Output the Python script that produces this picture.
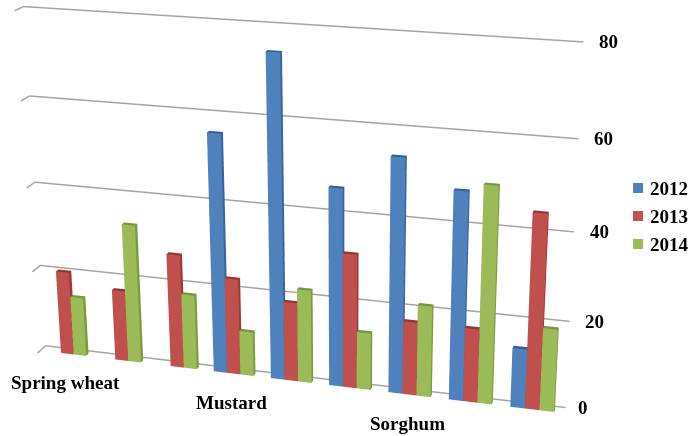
import numpy as np, plotly.graph_objects as go

categories = ["Spring wheat", "", "", "Mustard", "", "", "Sorghum", "", ""]
series_names = ["2012", "2013", "2014"]
values_2012 = [None, None, None, 55.8, 74.4, 45.9, 53.9, 47.7, 13.7]
values_2013 = [20.1, 17.0, 27.0, 22.7, 18.6, 31.3, 17.1, 17.1, 44.4]
values_2014 = [14.2, 33.0, 17.8, 10.5, 21.9, 13.4, 21.2, 49.5, 19.0]
z_ticks = [0, 20, 40, 60, 80]

front = ["#4F81BD", "#C0504D", "#9BBB59"]
side = ["#3A659A", "#9A3B38", "#7C9A42"]
top = ["#34608F", "#963633", "#7A9640"]
grid_color = "#A4A4A4"
font = dict(family="Liberation Serif", size=19, color="#000000", weight=700)

BAR_W, D0, D1 = 0.233, 0.345, 0.655
FOCAL = 1672.8
W, H = 689, 436
LEGEND_Y = [188, 216, 244]

def bar_mesh(vals, k, name):
    X, Y, Z, I, J, K, C = [], [], [], [], [], [], []
    for g, v in enumerate(vals):
        if v is None:
            continue
        x0 = g + .5 + (k - 1.5) * BAR_W
        x1 = x0 + BAR_W
        n = len(X)
        for z in (0, v):
            for x, y in ((x0, D0), (x1, D0), (x1, D1), (x0, D1)):
                X.append(x); Y.append(y); Z.append(z)
        quads = [((0, 1, 5, 4), front[k]), ((1, 2, 6, 5), side[k]), ((3, 0, 4, 7), side[k]),
                 ((4, 5, 6, 7), top[k]), ((2, 3, 7, 6), side[k]), ((0, 3, 2, 1), side[k])]
        for (a, b, c, d), col in quads:
            I += [n + a, n + a]; J += [n + b, n + c]; K += [n + c, n + d]; C += [col, col]
    return go.Mesh3d(x=X, y=Y, z=Z, i=I, j=J, k=K, facecolor=C, flatshading=True, name=name,
                     lighting=dict(ambient=1, diffuse=0, specular=0, fresnel=0, roughness=1),
                     hoverinfo="skip", showlegend=False, showscale=False)

fig = go.Figure()
for t in z_ticks:
    fig.add_trace(go.Scatter3d(x=[0, 0, 9], y=[0, 1, 1], z=[t, t, t], mode="lines",
                               line=dict(color=grid_color, width=3), showlegend=False, hoverinfo="skip"))
for k, (vals, nm) in enumerate(zip([values_2012, values_2013, values_2014], series_names)):
    fig.add_trace(bar_mesh(vals, k, nm))

ann = [dict(x=9, y=1, z=t, text=str(t), showarrow=False, xshift=25 if t else 18, font=font) for t in z_ticks]
ann += [dict(x=g + .5, y=D0, z=0, text=c, showarrow=False, xshift=-2, yshift=-29, font=font)
        for g, c in enumerate(categories) if c]

shapes = [dict(type="rect", xref="paper", yref="paper", x0=633 / W, x1=643 / W,
               y0=1 - (ly + 5) / H, y1=1 - (ly - 5) / H, fillcolor=front[k], line=dict(width=0))
          for k, ly in enumerate(LEGEND_Y)]
legend_text = [dict(xref="paper", yref="paper", x=648 / W, y=1 - ly / H, xanchor="left", yanchor="middle",
                    text=nm, showarrow=False, font=font)
               for nm, ly in zip(series_names, LEGEND_Y)]

axis = dict(visible=False, showgrid=False, zeroline=False, showspikes=False)
fig.update_layout(
    width=W, height=H, margin=dict(l=0, r=0, t=0, b=0), paper_bgcolor="white",
    showlegend=False, shapes=shapes, annotations=legend_text,
    scene=dict(
        domain=dict(x=[0, 1], y=[0, 1]), aspectmode="manual",
        aspectratio=dict(x=1.5146, y=0.0529, z=1),
        camera=dict(eye=dict(x=1.27657, y=-4.03021, z=1.47204),
                    center=dict(x=-0.00718, y=0.56701, z=-0.21954),
                    up=dict(x=0, y=0, z=1), projection=dict(type="perspective")),
        xaxis=dict(range=[0, 9], **axis), yaxis=dict(range=[0, 1], **axis), zaxis=dict(range=[0, 80], **axis),
        annotations=ann, bgcolor="white"))

fovy = 2 * np.arctan((H / 2) / FOCAL)
post = """
document.body.style.margin='0';
var gd=document.getElementById('{plot_id}');
function setFov(){var s=gd._fullLayout.scene._scene; if(s&&s.glplot){s.glplot.fovy=%f; s.glplot.redraw();}}
setFov(); setTimeout(setFov,100); setTimeout(setFov,500);
""" % fovy
fig.write_html("out.html", post_script=post, config=dict(displayModeBar=False))
